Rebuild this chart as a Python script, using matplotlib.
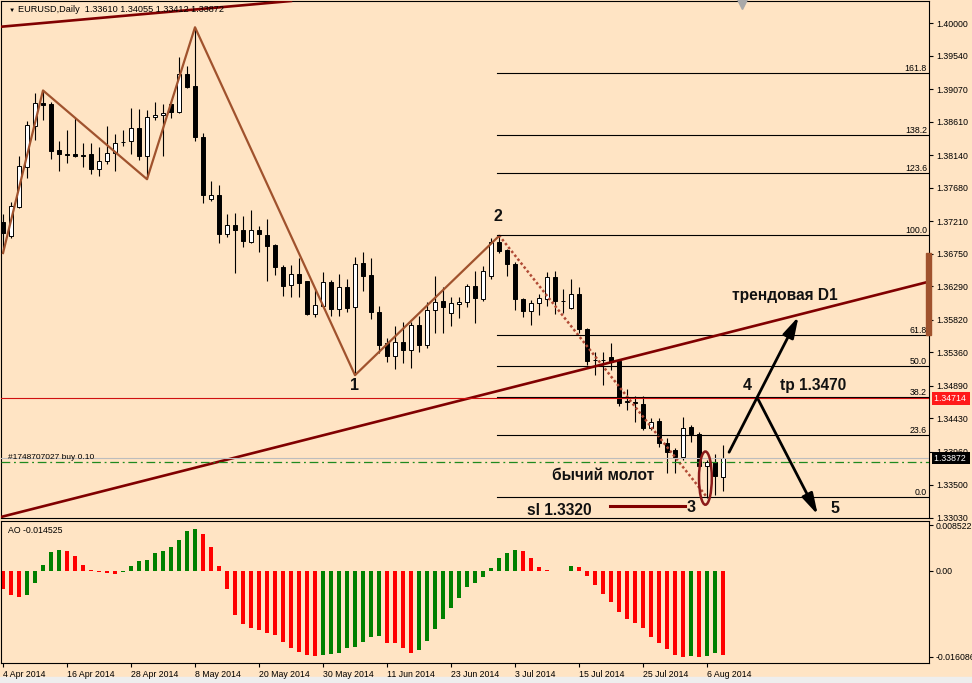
import matplotlib.pyplot as plt
from matplotlib.patches import Ellipse, Rectangle

plt.rcParams['font.family'] = ['Liberation Sans', 'DejaVu Sans']

# daily EURUSD bars, 4 Apr 2014 .. 8 Aug 2014
opens = [1.3720, 1.3700, 1.3741, 1.3797, 1.3855, 1.3888, 1.3886, 1.3821, 1.3815, 1.3815,
         1.3814, 1.3815, 1.3794, 1.3805, 1.3817, 1.3832, 1.3834, 1.3852, 1.3812, 1.3867,
         1.3870, 1.3886, 1.3875, 1.3928, 1.3911, 1.3840, 1.3752, 1.3758, 1.3703, 1.3715,
         1.3709, 1.3692, 1.3709, 1.3701, 1.3687, 1.3657, 1.3631, 1.3646, 1.3636, 1.3590,
         1.3602, 1.3635, 1.3597, 1.3628, 1.3600, 1.3662, 1.3645, 1.3593, 1.3549, 1.3531,
         1.3551, 1.3540, 1.3575, 1.3547, 1.3596, 1.3608, 1.3591, 1.3604, 1.3607, 1.3630,
         1.3611, 1.3644, 1.3692, 1.3680, 1.3660, 1.3611, 1.3595, 1.3605, 1.3611, 1.3642,
         1.3609, 1.3599, 1.3619, 1.3569, 1.3525, 1.3526, 1.3529, 1.3524, 1.3466, 1.3466,
         1.3464, 1.3430, 1.3440, 1.3408, 1.3398, 1.3389, 1.3431, 1.3421, 1.3376, 1.3381,
         1.33610]
highs = [1.3731, 1.3748, 1.3812, 1.3862, 1.3901, 1.3905, 1.3889, 1.3834, 1.3850, 1.3866,
         1.3831, 1.3831, 1.3825, 1.3855, 1.3844, 1.3849, 1.3880, 1.3879, 1.3877, 1.3889,
         1.3886, 1.3890, 1.3952, 1.3939, 1.3994, 1.3845, 1.3777, 1.3772, 1.3731, 1.3733,
         1.3728, 1.3736, 1.3714, 1.3724, 1.3689, 1.3659, 1.3659, 1.3669, 1.3636, 1.3626,
         1.3650, 1.3638, 1.3647, 1.3639, 1.3670, 1.3677, 1.3669, 1.3602, 1.3557, 1.3573,
         1.3579, 1.3579, 1.3588, 1.3607, 1.3643, 1.3628, 1.3614, 1.3614, 1.3632, 1.3651,
         1.3658, 1.3697, 1.3700, 1.3681, 1.3664, 1.3612, 1.3610, 1.3618, 1.3650, 1.3651,
         1.3625, 1.3640, 1.3628, 1.3570, 1.3536, 1.3537, 1.3549, 1.3525, 1.3485, 1.3474,
         1.3475, 1.3443, 1.3443, 1.3415, 1.3401, 1.3445, 1.3434, 1.3424, 1.3385, 1.3393,
         1.34055]
lows = [1.3676, 1.3697, 1.3739, 1.3781, 1.3835, 1.3863, 1.3808, 1.3791, 1.3803, 1.3811,
        1.3797, 1.3788, 1.3785, 1.3801, 1.3792, 1.3827, 1.3815, 1.3807, 1.3780, 1.3864,
        1.3812, 1.3866, 1.3873, 1.3909, 1.3834, 1.3746, 1.3750, 1.3690, 1.3699, 1.3648,
        1.3685, 1.3690, 1.3678, 1.3636, 1.3645, 1.3615, 1.3614, 1.3614, 1.3589, 1.3586,
        1.3600, 1.3587, 1.3588, 1.3593, 1.3504, 1.3622, 1.3583, 1.3535, 1.3522, 1.3513,
        1.3521, 1.3514, 1.3536, 1.3542, 1.3564, 1.3564, 1.3573, 1.3584, 1.3600, 1.3577,
        1.3608, 1.3640, 1.3676, 1.3643, 1.3596, 1.3586, 1.3575, 1.3589, 1.3601, 1.3590,
        1.3591, 1.3597, 1.3564, 1.3518, 1.3504, 1.3490, 1.3511, 1.3460, 1.3455, 1.3438,
        1.3427, 1.3427, 1.3403, 1.3366, 1.3366, 1.3384, 1.3410, 1.3375, 1.3331, 1.3335,
        1.33412]
closes = [1.3704, 1.3742, 1.3798, 1.3856, 1.3887, 1.3885, 1.3820, 1.3815, 1.3814, 1.3813,
          1.3812, 1.3794, 1.3806, 1.3817, 1.3831, 1.3833, 1.3852, 1.3812, 1.3867, 1.3870,
          1.3873, 1.3875, 1.3928, 1.3910, 1.3840, 1.3758, 1.3758, 1.3703, 1.3715, 1.3709,
          1.3693, 1.3709, 1.3703, 1.3686, 1.3656, 1.3630, 1.3646, 1.3634, 1.3590, 1.3603,
          1.3635, 1.3597, 1.3628, 1.3599, 1.3660, 1.3644, 1.3593, 1.3547, 1.3531, 1.3551,
          1.3540, 1.3575, 1.3547, 1.3596, 1.3607, 1.3600, 1.3605, 1.3607, 1.3629, 1.3612,
          1.3651, 1.3692, 1.3679, 1.3660, 1.3611, 1.3595, 1.3605, 1.3612, 1.3642, 1.3609,
          1.3608, 1.3619, 1.3569, 1.3524, 1.3526, 1.3525, 1.3523, 1.3465, 1.3467, 1.3465,
          1.3429, 1.3438, 1.3408, 1.3396, 1.3389, 1.3429, 1.3421, 1.3376, 1.3381, 1.3362,
          1.33872]

# Awesome Oscillator histogram
ao = [-0.00349, -0.00455, -0.00486, -0.00455, -0.00237, 0.00106, 0.00343, 0.00386, 0.00368, 0.00274,
      0.00106, 0.00012, -0.00031, -0.00050, -0.00069, -0.00019, 0.00087, 0.00187, 0.00199, 0.00336,
      0.00368, 0.00449, 0.00573, 0.00741, 0.00779, 0.00685, 0.00449, 0.00087, -0.00349, -0.00829,
      -0.00997, -0.01065, -0.01109, -0.01159, -0.01202, -0.01327, -0.01439, -0.01514, -0.01576, -0.01600,
      -0.01576, -0.01558, -0.01533, -0.01452, -0.01420, -0.01327, -0.01240, -0.01215, -0.01346, -0.01350,
      -0.01452, -0.01533, -0.01483, -0.01308, -0.01084, -0.00897, -0.00692, -0.00505, -0.00299, -0.00237,
      -0.00125, 0.00044, 0.00230, 0.00324, 0.00386, 0.00368, 0.00230, 0.00075, 0.00008, -0.00006,
      0.00003, 0.00087, 0.00062, -0.00093, -0.00268, -0.00436, -0.00579, -0.00766, -0.00903, -0.00972,
      -0.01065, -0.01234, -0.01346, -0.01458, -0.01570, -0.01605, -0.01589, -0.016086, -0.01589, -0.01545,
      -0.01576]

date_bars = [0, 8, 16, 24, 32, 40, 48, 56, 64, 72, 80, 88]
date_labels = ['4 Apr 2014', '16 Apr 2014', '28 Apr 2014', '8 May 2014', '20 May 2014', '30 May 2014',
               '11 Jun 2014', '23 Jun 2014', '3 Jul 2014', '15 Jul 2014', '25 Jul 2014', '6 Aug 2014']
price_ticks = [1.40000, 1.39540, 1.39070, 1.38610, 1.38140, 1.37680, 1.37210, 1.36750,
               1.36290, 1.35820, 1.35360, 1.34890, 1.34430, 1.33960, 1.33500, 1.33030]
ao_ticks = [0.008522, 0.0, -0.016086]
ao_tick_labels = ['0.008522', '0.00', '-0.016086']

# drawn objects (bar index, price)
zigzag_bars = [0, 5, 18, 24, 44, 62]
zigzag_prices = [1.3676, 1.3905, 1.3780, 1.3994, 1.3504, 1.3700]
fib_bars = [62, 88]
fib_prices = [1.3701, 1.3332]
fib_ratios = [0.0, 23.6, 38.2, 50.0, 61.8, 100.0, 123.6, 138.2, 161.8]
trend_a = [(0, 1.3305), (112, 1.3625)]
trend_b = [(0, 1.3995), (33, 1.4028)]
tp_price = 1.34714
bid_price = 1.33872
order_price = 1.3381
sl_bars = [75.9, 85.25]
sl_price = 1.3320
arrows = [((90.6, 1.3392), (99.6, 1.3590)), ((94.25, 1.3473), (102.0, 1.3304))]
wave_labels = ['1', '2', '3', '4', '5']
wave_bars = [43.9, 61.9, 86.0, 93.0, 104.0]
wave_prices = [1.3490, 1.3728, 1.3317, 1.3489, 1.3316]
notes = ['трендовая D1', 'tp 1.3470', 'бычий молот', 'sl 1.3320']
note_bars = [97.75, 101.25, 75.0, 69.6]
note_prices = [1.3616, 1.3489, 1.3363, 1.3313]

BG = '#ffe4c4'
W, H = 972, 683


def box(x0, y0, x1, y1):
    return [x0 / W, 1 - y1 / H, (x1 - x0) / W, (y1 - y0) / H]


fig = plt.figure(figsize=(9.72, 6.83), dpi=100, facecolor=BG)
ax = fig.add_axes(box(1, 1, 929, 518), facecolor=BG)
ao_ax = fig.add_axes(box(1, 521, 929, 663), facecolor=BG)
fig.add_artist(Rectangle((0, 0), 1, 6 / H, transform=fig.transFigure, color='#eeeeee', zorder=0))

# candles
n = len(opens)
xs = list(range(n))
ax.vlines(xs, lows, highs, color='black', lw=0.8, zorder=2)
bottoms = [min(o, c) for o, c in zip(opens, closes)]
heights = [max(abs(c - o), 0.00002) for o, c in zip(opens, closes)]
faces = ['white' if c >= o else 'black' for o, c in zip(opens, closes)]
ax.bar(xs, heights, bottom=bottoms, width=0.58, color=faces, edgecolor='black', lw=0.7, zorder=3)

# objects
ax.plot(zigzag_bars, zigzag_prices, color='#a0522d', lw=1.6, zorder=4)
ax.plot(fib_bars, fib_prices, color='#b04a35', lw=1.8, ls=(0, (1, 1)), zorder=4)
for r in fib_ratios:
    lvl = fib_prices[1] + r / 100 * (fib_prices[0] - fib_prices[1])
    ax.plot([fib_bars[0] - 0.25, 115.75], [lvl, lvl], color='black', lw=0.8, zorder=4)
    ax.text(115.5, lvl + 0.00005, '%.1f' % r, ha='right', va='bottom', fontsize=6.3, zorder=5)
ax.axline(trend_a[0], trend_a[1], color='#800000', lw=1.9, zorder=4)
ax.axline(trend_b[0], trend_b[1], color='#800000', lw=1.9, zorder=4)
ax.axhline(tp_price, color='#d01010', lw=0.8, zorder=4)
ax.axhline(bid_price, color='#bdbdbd', lw=0.8, zorder=4)
ax.axhline(order_price, color='#1f8a1f', lw=0.9, ls=(0, (7, 3, 1.5, 3)), zorder=4)
ax.text(0.6, order_price + 0.0002, '#1748707027 buy 0.10', fontsize=6, va='bottom', zorder=5)
ax.plot(sl_bars, [sl_price, sl_price], color='#800000', lw=2.2, zorder=4)
ax.add_patch(Ellipse((87.8, 1.3359), 1.6, 0.0075, fill=False, ec='#8b1a1a', lw=1.8, zorder=6))
for start, tip in arrows:
    ax.annotate('', xy=tip, xytext=start, zorder=6,
                arrowprops=dict(arrowstyle='-|>,head_width=0.25,head_length=0.9',
                                color='black', lw=2, mutation_scale=14))
for lab, b, p in zip(wave_labels, wave_bars, wave_prices):
    ax.text(b, p, lab, ha='center', va='center', fontsize=11.5, fontweight='bold', color='#111111', zorder=7)
for lab, b, p in zip(notes, note_bars, note_prices):
    ax.text(b, p, lab, ha='center', va='center', fontsize=11.2, fontweight='bold', color='#111111', zorder=7)

ax.set_xlim(-0.25, 115.75)
ax.set_ylim(1.330282, 1.403099)
ax.set_xticks([])
ax.yaxis.tick_right()
ax.set_yticks(price_ticks)
ax.set_yticklabels(['%.5f' % p for p in price_ticks])
ax.tick_params(axis='y', length=3, width=0.8, pad=2, labelsize=6.3)
ax.add_patch(Rectangle((115.4, 1.35606), 0.6, 0.01155, color='#a0522d', clip_on=False, zorder=8))
ax.plot([92.4], [1.4027], marker='v', color='#a9a9a9', ms=7, clip_on=False, zorder=8)
ytr = ax.get_yaxis_transform()
ax.text(1.005, tp_price, '1.34714 ', transform=ytr, fontsize=6.3, color='white', va='center',
        bbox=dict(boxstyle='square,pad=0.2', fc='#ff1a1a', ec='none'), zorder=9, clip_on=False)
ax.text(1.005, bid_price, '1.33872 ', transform=ytr, fontsize=6.3, color='white', va='center',
        bbox=dict(boxstyle='square,pad=0.2', fc='black', ec='none'), zorder=9, clip_on=False)
for s in ax.spines.values():
    s.set_linewidth(0.8)

fig.text(9 / W, 1 - 10 / H, '▼', fontsize=4.5, va='center')
fig.text(18 / W, 1 - 10 / H, 'EURUSD,Daily  1.33610 1.34055 1.33412 1.33872', fontsize=6.6, va='center')

# AO panel
ao_colors = ['red'] + ['green' if ao[i] > ao[i - 1] else 'red' for i in range(1, n)]
ao_ax.bar(xs, ao, width=0.4, color=ao_colors)
ao_ax.set_xlim(-0.25, 115.75)
ao_ax.set_ylim(-0.01725, 0.00929)
ao_ax.yaxis.tick_right()
ao_ax.set_yticks(ao_ticks)
ao_ax.set_yticklabels(ao_tick_labels)
ao_ax.set_xticks(date_bars)
ao_ax.set_xticklabels(date_labels, ha='left')
ao_ax.tick_params(length=3, width=0.8, pad=2, labelsize=6.3)
ao_ax.text(0.008, 0.93, 'AO -0.014525', transform=ao_ax.transAxes, fontsize=6.3, va='center')
for s in ao_ax.spines.values():
    s.set_linewidth(0.8)

fig.savefig('out.png', dpi=100, facecolor=BG)
